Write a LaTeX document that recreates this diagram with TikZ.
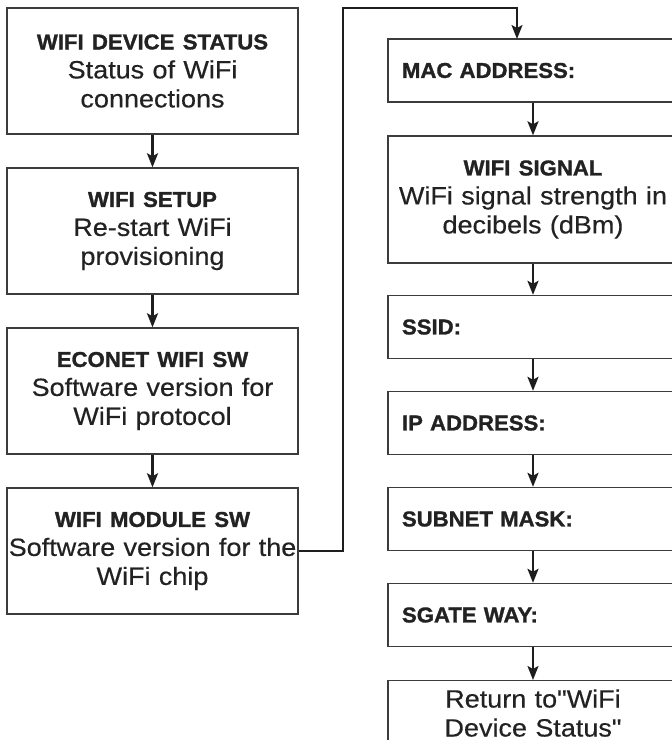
\documentclass[tikz,border=0pt]{standalone}
\usepackage{fontspec}
\setmainfont{Liberation Sans}
\newfontfamily\regfont[FakeStretch=1.08,FakeBold=0.4,Ligatures=TeXOff]{Liberation Sans}
\newfontfamily\boldfam[FakeStretch=1.03,Ligatures=TeXOff,BoldFeatures={FakeBold=1.3}]{Liberation Sans}
\usetikzlibrary{arrows.meta}
\definecolor{boxc}{HTML}{3C3C3C}
\definecolor{linec}{HTML}{1E1E1E}
\definecolor{txtc}{HTML}{222222}
\newcommand\ttl{\boldfam\bfseries\fontsize{21.5}{29}\selectfont}
\newcommand\rtx{\regfont\fontsize{25}{29}\selectfont}
\tikzset{
  lbox/.style={draw=boxc, line width=1.4pt, minimum width=291pt, minimum height=126pt,
    text width=291pt, inner xsep=0pt, align=center, text=txtc, font=\rtx},
  rbox/.style={draw=boxc, line width=1.4pt, minimum width=290pt, minimum height=63pt,
    text width=262pt, inner xsep=14pt, align=left, text=txtc, font=\ttl},
  rboxc/.style={draw=boxc, line width=1.4pt, minimum width=290pt,
    text width=290pt, inner xsep=0pt, align=center, text=txtc, font=\rtx},
  arr/.style={draw=linec, line width=2.2pt, -{Stealth[length=14pt,width=11pt,inset=3pt]}}
}
\begin{document}
\begin{tikzpicture}[x=1pt,y=-1pt]
\useasboundingbox (0,0) rectangle (672,740);
\clip (0,0) rectangle (672,740);
% left column
\node[lbox] (b1) at (152.5,71) {{\ttl WIFI DEVICE STATUS}\\Status of WiFi\\connections};
\node[lbox] (b2) at (152.5,231) {{\ttl WIFI SETUP}\\Re-start WiFi\\provisioning};
\node[lbox] (b3) at (152.5,391) {{\ttl ECONET WIFI SW}\\Software version for\\WiFi protocol};
\node[lbox] (b4) at (152.5,551) {{\ttl WIFI MODULE SW}\\Software version for the\\WiFi chip};
% right column
\node[rbox] (m1) at (533,70.5) {MAC ADDRESS:};
\node[rboxc, minimum height=127pt] (m2) at (533,199.5) {{\ttl WIFI SIGNAL}\\WiFi signal strength in\\decibels (dBm)};
\node[rbox] (m3) at (533,327) {SSID:};
\node[rbox] (m4) at (533,423) {IP ADDRESS:};
\node[rbox] (m5) at (533,519) {SUBNET MASK:};
\node[rbox] (m6) at (533,615) {SGATE WAY:};
\node[rboxc, anchor=north, inner ysep=8.7pt] (m7) at (533,680) {Return to"WiFi\\Device Status"};
% connectors
\draw[arr] (b1) -- (b2);
\draw[arr] (b2) -- (b3);
\draw[arr] (b3) -- (b4);
\coordinate (c1) at (343,551);
\coordinate (c2) at (343,8);
\coordinate (c3) at (517,8);
\coordinate (c4) at (517,39);
\draw[arr] (b4.east) -- (c1) -- (c2) -- (c3) -- (c4);
\draw[arr] (m1) -- (m2);
\draw[arr] (m2) -- (m3);
\draw[arr] (m3) -- (m4);
\draw[arr] (m4) -- (m5);
\draw[arr] (m5) -- (m6);
\draw[arr] (m6) -- (m7);
\end{tikzpicture}
\end{document}
